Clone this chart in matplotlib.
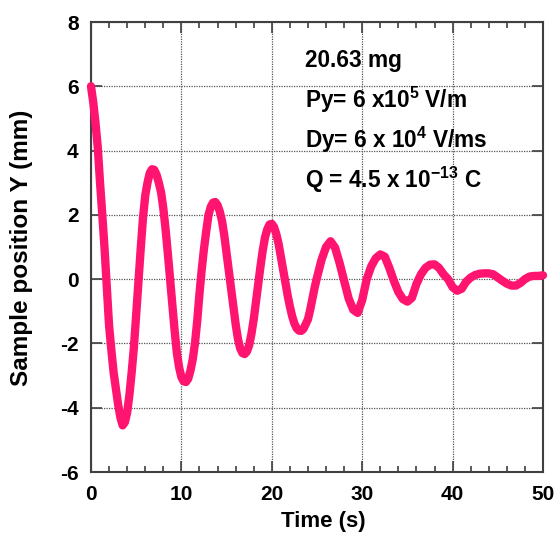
import numpy as np
import matplotlib
matplotlib.use("Agg")
import matplotlib.pyplot as plt
from matplotlib.ticker import MultipleLocator

plt.rcParams['font.family'] = ['Liberation Sans', 'DejaVu Sans']
plt.rcParams['font.weight'] = 'bold'
plt.rcParams['axes.unicode_minus'] = False
plt.rcParams['mathtext.fontset'] = 'custom'
plt.rcParams['mathtext.rm'] = 'Liberation Sans:bold'
plt.rcParams['mathtext.bf'] = 'Liberation Sans:bold'
plt.rcParams['mathtext.default'] = 'bf'

# time (s): 0.25 s steps up to 25 s, 0.5 s after
time_s = [0.0, 0.25, 0.5, 0.75, 1.0, 1.25, 1.5, 1.75, 2.0, 2.25,
          2.5, 2.75, 3.0, 3.25, 3.5, 3.75, 4.0, 4.25, 4.5, 4.75,
          5.0, 5.25, 5.5, 5.75, 6.0, 6.25, 6.5, 6.75, 7.0, 7.25,
          7.5, 7.75, 8.0, 8.25, 8.5, 8.75, 9.0, 9.25, 9.5, 9.75,
          10.0, 10.25, 10.5, 10.75, 11.0, 11.25, 11.5, 11.75, 12.0, 12.25,
          12.5, 12.75, 13.0, 13.25, 13.5, 13.75, 14.0, 14.25, 14.5, 14.75,
          15.0, 15.25, 15.5, 15.75, 16.0, 16.25, 16.5, 16.75, 17.0, 17.25,
          17.5, 17.75, 18.0, 18.25, 18.5, 18.75, 19.0, 19.25, 19.5, 19.75,
          20.0, 20.25, 20.5, 20.75, 21.0, 21.25, 21.5, 21.75, 22.0, 22.25,
          22.5, 22.75, 23.0, 23.25, 23.5, 23.75, 24.0, 24.25, 24.5, 24.75,
          25.0, 25.5, 26.0, 26.5, 27.0, 27.5, 28.0, 28.5, 29.0, 29.5,
          30.0, 30.5, 31.0, 31.5, 32.0, 32.5, 33.0, 33.5, 34.0, 34.5,
          35.0, 35.5, 36.0, 36.5, 37.0, 37.5, 38.0, 38.5, 39.0, 39.5,
          40.0, 40.5, 41.0, 41.5, 42.0, 42.5, 43.0, 43.5, 44.0, 44.5,
          45.0, 45.5, 46.0, 46.5, 47.0, 47.5, 48.0, 48.5, 49.0, 49.5, 50.0]

# sample position Y (mm)
pos_y = [6.0, 5.5, 4.85, 4.1, 3.0, 2.0, 0.95, -0.25, -1.45, -2.2,
         -2.9, -3.4, -3.9, -4.3, -4.55, -4.45, -4.15, -3.6, -2.9, -2.1,
         -1.1, -0.05, 0.95, 1.9, 2.6, 3.0, 3.3, 3.42, 3.4, 3.25,
         3.0, 2.7, 2.2, 1.55, 0.8, 0.0, -0.8, -1.6, -2.3, -2.75,
         -3.05, -3.18, -3.2, -3.1, -2.85, -2.5, -2.0, -1.3, -0.45, 0.3,
         0.95, 1.5, 2.0, 2.25, 2.38, 2.4, 2.3, 2.1, 1.8, 1.35,
         0.8, 0.25, -0.3, -0.85, -1.4, -1.85, -2.15, -2.3, -2.33, -2.25,
         -2.05, -1.7, -1.25, -0.7, -0.15, 0.4, 0.9, 1.3, 1.55, 1.7,
         1.72, 1.62, 1.4, 1.1, 0.7, 0.3, -0.1, -0.5, -0.85, -1.15,
         -1.38, -1.53, -1.6, -1.61, -1.55, -1.4, -1.25, -0.95, -0.6, -0.25,
         0.05, 0.6, 1.0, 1.18, 0.98, 0.5, -0.05, -0.6, -0.95, -1.05,
         -0.65, 0.0, 0.4, 0.65, 0.77, 0.7, 0.35, -0.05, -0.4, -0.62,
         -0.7, -0.58, -0.15, 0.15, 0.35, 0.45, 0.46, 0.35, 0.15, 0.0,
         -0.25, -0.36, -0.3, -0.08, 0.05, 0.13, 0.17, 0.18, 0.18, 0.15,
         0.05, -0.05, -0.14, -0.2, -0.2, -0.12, 0.0, 0.08, 0.1, 0.1, 0.12]

notes = ["20.63 mg",
         r"Py= 6 x10$^{5}$ V/m",
         r"Dy= 6 x 10$^{4}$ V/ms",
         r"Q = 4.5 x 10$^{-13}$ C"]

W, H = 557, 536
fig = plt.figure(figsize=(W/100, H/100), dpi=100)
ax = fig.add_axes([91/W, 1-472/H, 452/W, 450/H])

ax.plot(time_s, pos_y, color='#ff1470', lw=6, solid_capstyle='round',
        solid_joinstyle='round', clip_on=False, zorder=3)

ax.set_xlim(0, 50)
ax.set_ylim(-6, 8)
ax.xaxis.set_major_locator(MultipleLocator(10))
ax.xaxis.set_minor_locator(MultipleLocator(2))
ax.yaxis.set_major_locator(MultipleLocator(2))
ax.tick_params(which='both', direction='in', top=True, right=True,
               labelsize=15, color='#404040')
ax.tick_params(which='major', length=8, width=1.2, pad=9)
ax.tick_params(which='minor', length=4, width=1.2)
for sp in ax.spines.values():
    sp.set_color('#404040')
    sp.set_linewidth(1.5)
ax.grid(True, which='major', linestyle=(0, (1, 1)), color='#555555', lw=0.9)

ax.set_xlabel("Time (s)", fontsize=16, fontweight='bold')
ax.set_ylabel("Sample position Y (mm)", fontsize=17.5, fontweight='bold')
ax.xaxis.set_label_coords((323-91)/452, -(511-472)/450)
ax.yaxis.set_label_coords(-(91-33)/452, (472-248)/450)

for i, s in enumerate(notes):
    fig.text(305/W, 1-(60 + 40*i)/H, s, fontsize=16.3, va='center', ha='left')

fig.savefig("out.png", dpi=100)
